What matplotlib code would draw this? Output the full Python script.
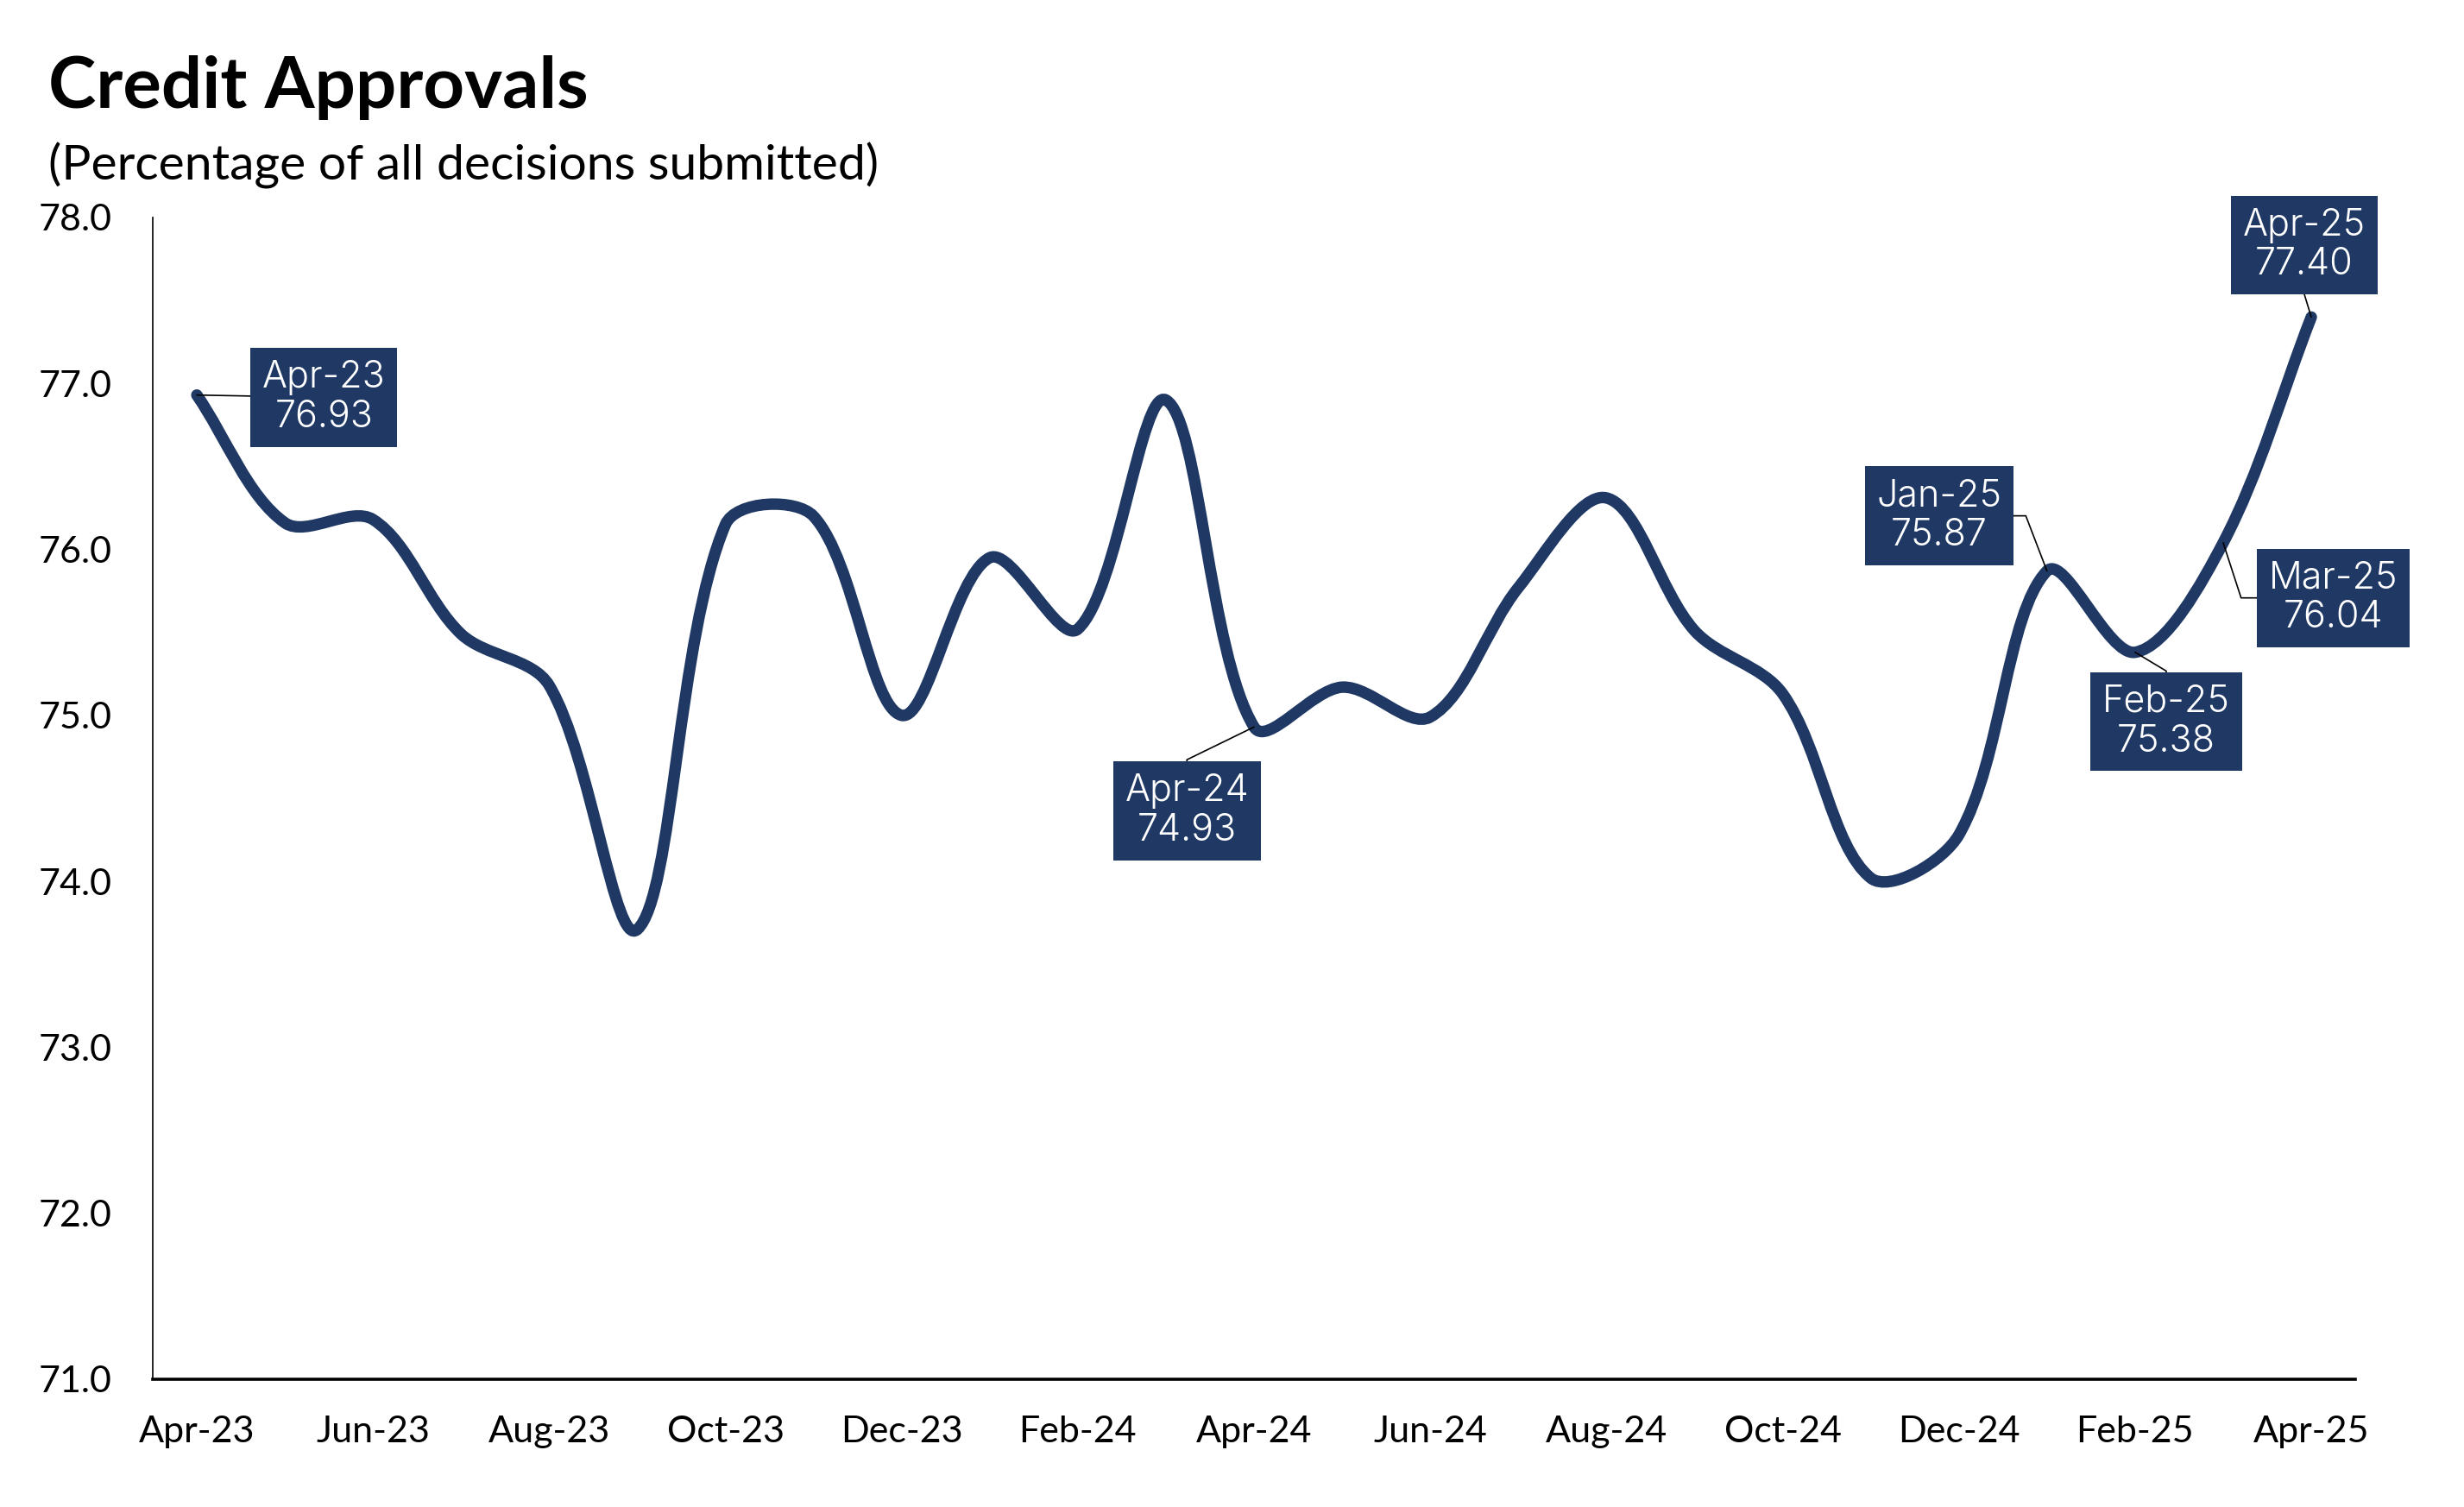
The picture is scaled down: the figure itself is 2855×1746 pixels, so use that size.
import matplotlib
matplotlib.use("Agg")
import matplotlib.pyplot as plt
import numpy as np
from matplotlib.path import Path
from matplotlib.patches import PathPatch
from matplotlib.ticker import FormatStrFormatter

# monthly series, Apr-23 .. Apr-25
months = ["Apr-23", "May-23", "Jun-23", "Jul-23", "Aug-23", "Sep-23", "Oct-23",
          "Nov-23", "Dec-23", "Jan-24", "Feb-24", "Mar-24", "Apr-24", "May-24",
          "Jun-24", "Jul-24", "Aug-24", "Sep-24", "Oct-24", "Nov-24", "Dec-24",
          "Jan-25", "Feb-25", "Mar-25", "Apr-25"]
approvals = [76.93, 76.16, 76.18, 75.49, 75.18, 73.71, 76.15,
             76.20, 75.00, 75.95, 75.52, 76.90, 74.93, 75.17,
             74.99, 75.77, 76.31, 75.51, 75.13, 74.02, 74.28,
             75.87, 75.38, 76.04, 77.40]

# callouts: month, text offset (points), connection style
callout_months = ["Apr-23", "Apr-24", "Jan-25", "Feb-25", "Mar-25", "Apr-25"]
callout_offsets = [(53, -1), (-28, -35), (-45, 23), (13, -29), (46, -23), (-3, 30)]
callout_styles = ["arc3,rad=0",
                  "angle,angleA=90,angleB=26,rad=0",
                  "angle,angleA=0,angleB=111,rad=0",
                  "angle,angleA=90,angleB=-31,rad=0",
                  "angle,angleA=0,angleB=-72,rad=0",
                  "angle,angleA=90,angleB=107,rad=0"]

navy = "#1f3864"
font_main = "Lato"
font_box = "Inter"

fig = plt.figure(figsize=(14.275, 8.73), dpi=200)
ax = fig.add_axes([0.062, 0.0848, 0.8939, 0.7709])

x = np.arange(len(months))
y = np.array(approvals)
n = len(x)

ax.set_xlim(-0.5, n - 0.5)
ax.set_ylim(71, 78)

# spreadsheet-style smoothed line: bezier segments built in screen space,
# tangent length scaled by neighbouring chord lengths
pts = ax.transData.transform(np.column_stack([x, y]))
verts = [pts[0]]
codes = [Path.MOVETO]
for i in range(n - 1):
    p0 = pts[max(i - 1, 0)]
    p1 = pts[i]
    p2 = pts[i + 1]
    p3 = pts[min(i + 2, n - 1)]
    d01 = np.hypot(*(p1 - p0))
    d12 = np.hypot(*(p2 - p1))
    d23 = np.hypot(*(p3 - p2))
    c1 = p1 + (p2 - p0) / 3 * d12 / (d01 + d12)
    c2 = p2 - (p3 - p1) / 3 * d12 / (d12 + d23)
    verts += [c1, c2, p2]
    codes += [Path.CURVE4] * 3
verts = ax.transData.inverted().transform(np.array(verts))
line = PathPatch(Path(verts, codes), facecolor="none", edgecolor=navy, lw=4.8,
                 capstyle="round", joinstyle="round", zorder=3)
ax.add_patch(line)

ax.set_yticks(np.arange(71, 78.1, 1))
ax.yaxis.set_major_formatter(FormatStrFormatter("%.1f"))
ax.set_xticks(x[::2])
ax.set_xticklabels(months[::2])
ax.tick_params(axis="both", length=0, labelsize=15.5)
ax.tick_params(axis="x", pad=15)
ax.tick_params(axis="y", pad=17)
for lab in ax.get_xticklabels() + ax.get_yticklabels():
    lab.set_fontfamily(font_main)

ax.spines["top"].set_visible(False)
ax.spines["right"].set_visible(False)
ax.spines["left"].set_linewidth(0.6)
ax.spines["bottom"].set_linewidth(1.3)

for m, off, style in zip(callout_months, callout_offsets, callout_styles):
    i = months.index(m)
    ax.annotate(f"{m}\n{approvals[i]:.2f}", xy=(x[i], y[i]), xytext=off,
                textcoords="offset points", ha="center", va="center",
                color="white", fontsize=15.5, fontfamily=font_box,
                fontweight=300, linespacing=1.15, zorder=5,
                bbox=dict(boxstyle="square,pad=0.32", fc=navy, ec="none"),
                arrowprops=dict(arrowstyle="-", color="black", lw=0.6,
                                connectionstyle=style, shrinkA=0, shrinkB=0))

fig.text(0.0195, 0.9284, "Credit Approvals", fontsize=30, fontweight="bold",
         fontfamily=font_main, va="baseline", ha="left")
fig.text(0.0195, 0.8808, "(Percentage of all decisions submitted)", fontsize=20.5,
         fontfamily=font_main, va="baseline", ha="left")

fig.savefig("out.png", dpi=200)
